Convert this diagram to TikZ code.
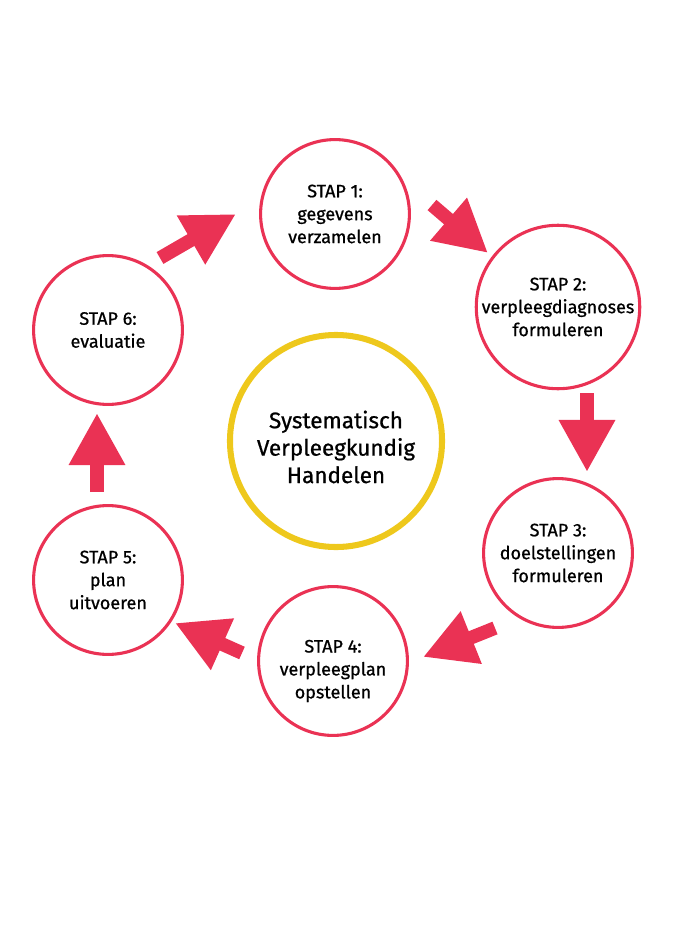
\documentclass[tikz,border=0pt]{standalone}
\usepackage{fontspec}
\setmainfont{Fira Sans}[FakeBold=0.8]
\usetikzlibrary{arrows.meta}
\definecolor{stapRood}{RGB}{234,50,84}
\definecolor{kernGeel}{RGB}{238,200,28}
\newcommand{\zakTekst}[2]{\raisebox{-#1}[\height][\depth]{\begin{tabular}{@{}c@{}}#2\end{tabular}}}
\begin{document}
\begin{tikzpicture}[x=0.025cm,y=-0.025cm,
		stap/.style={circle,draw=stapRood,line width=2.2pt,minimum size=3.72cm,inner sep=0pt,align=center,font=\fontsize{12.8}{16.3}\selectfont},
		kern/.style={circle,draw=kernGeel,line width=4.3pt,minimum size=5.3cm,align=center,font=\fontsize{16}{19.5}\selectfont},
		pijl/.style={draw=stapRood,line width=0.34cm,-{Triangle[length=1.3cm,width=1.32cm]}}]

			\useasboundingbox (0,0) rectangle (673,926);

			\node [kern] (svh) at (336,441) {\zakTekst{6.5pt}{Systematisch\\Verpleegkundig\\Handelen}};

			\node [stap] (s1) at (335,214) {STAP 1:\\gegevens\\verzamelen};
			\node [stap] (s2) at (558,307) {STAP 2:\\verpleegdiagnoses\\formuleren};
			\node [stap] (s3) at (558,553) {STAP 3:\\doelstellingen\\formuleren};
			\node [stap] (s4) at (333,661) {\zakTekst{7pt}{STAP 4:\\verpleegplan\\opstellen}};
			\node [stap] (s5) at (108,580) {STAP 5:\\plan\\uitvoeren};
			\node [stap] (s6) at (108,330) {STAP 6:\\evaluatie};

			\coordinate (t61) at (160,258); \coordinate (p61) at (236,214);
			\coordinate (t12) at (432,205); \coordinate (p12) at (488,253);
			\coordinate (t23) at (587,393); \coordinate (p23) at (587,472);
			\coordinate (t34) at (495,628); \coordinate (p34) at (423,657);
			\coordinate (t45) at (242,653); \coordinate (p45) at (175,623);
			\coordinate (t56) at (97,492); \coordinate (p56) at (97,413);

			\foreach \s/\t in {t61/p61, t12/p12, t23/p23, t34/p34, t45/p45, t56/p56} {\draw [pijl] (\s) -- (\t);}
		\end{tikzpicture}
\end{document}
